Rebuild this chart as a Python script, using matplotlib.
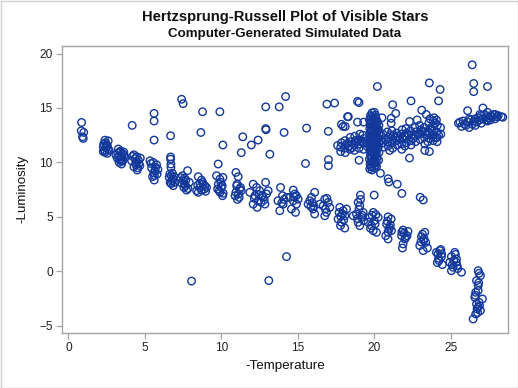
import matplotlib
matplotlib.use("Agg")
import matplotlib.pyplot as plt
from matplotlib.patches import Rectangle

# ---------------- data ----------------
# main sequence, upper-left part
ms_a_x = [0.86, 0.84, 1.00, 0.97, 0.92,
          2.39, 2.60, 2.49, 2.28, 2.60, 2.39, 2.54, 2.28, 2.45, 2.35, 2.55, 2.42, 2.66, 2.31,
          3.26, 3.37, 3.47, 3.19, 3.58, 3.32, 3.47, 3.69, 3.10, 3.40, 3.55, 3.28, 3.62, 3.35, 3.50, 3.22, 3.44, 3.65,
          4.28, 4.46, 4.13, 4.42, 4.57, 4.28, 4.50, 4.67, 4.35, 4.60, 4.20, 4.52, 4.40, 4.70,
          5.33, 5.55, 5.76, 5.44, 5.65, 5.80, 5.50, 5.61, 5.70, 5.40, 5.58, 5.85, 5.62,
          6.68, 6.68, 6.70, 6.70, 6.63, 6.74, 6.85, 6.96, 6.85, 6.59, 6.78, 6.90, 6.65, 6.80, 6.72,
          7.46, 7.79, 7.68, 7.61, 7.72, 7.55, 7.90, 7.50, 7.35, 7.65, 7.82, 7.58, 7.40,
          8.49, 8.70, 8.81, 8.59, 8.38, 8.92, 8.77, 9.03, 8.49, 8.70, 8.60, 8.88, 8.45, 8.97]
ms_a_y = [13.67, 12.90, 12.75, 12.20, 12.35,
          12.04, 11.98, 11.62, 11.44, 11.23, 10.92, 10.83, 11.00, 11.35, 11.15, 11.50, 11.80, 11.10, 11.70,
          11.23, 10.92, 10.61, 10.40, 10.21, 10.00, 9.85, 10.46, 10.70, 11.05, 10.80, 10.55, 10.95, 10.25, 10.10, 10.85, 10.35, 10.65,
          10.70, 10.52, 10.15, 10.00, 10.21, 9.60, 9.30, 9.70, 10.35, 9.90, 10.55, 9.50, 9.80, 10.40,
          10.15, 10.00, 9.79, 9.48, 9.24, 8.93, 8.69, 8.38, 9.55, 9.90, 9.05, 9.35, 8.80,
          10.50, 10.30, 9.85, 9.55, 8.93, 8.78, 8.47, 8.17, 7.86, 8.63, 8.30, 8.70, 8.15, 9.00, 8.05,
          8.78, 9.24, 8.38, 8.00, 7.46, 7.70, 8.17, 8.32, 8.60, 7.85, 7.60, 8.55, 8.10,
          8.69, 8.38, 8.00, 7.70, 7.40, 7.85, 8.17, 7.70, 7.25, 7.46, 8.05, 7.55, 7.90, 7.35]

# main sequence, middle part
ms_b_x = [9.79, 9.68, 9.90, 10.10, 9.80, 10.00, 9.86, 10.12, 9.97, 10.08, 9.75, 10.05, 9.92,
          10.95, 11.10, 11.00, 11.20, 10.95, 11.17, 10.90, 11.30, 11.03, 11.12, 11.05, 11.25,
          12.08, 12.30, 12.50, 12.20, 12.40, 12.08, 12.73, 12.95, 13.06, 12.89, 12.60, 12.34, 11.86, 12.85, 12.45, 12.65, 12.15, 12.80,
          13.87, 14.00, 13.70, 14.04, 13.82, 14.26, 14.70, 14.80, 14.70, 14.91, 14.58, 14.85, 14.48, 15.02, 13.95, 14.10, 14.75, 14.90,
          16.10, 15.89, 15.67, 16.00, 16.10, 15.78, 16.76, 16.98, 16.66, 16.87, 17.09, 16.76, 16.44, 15.95, 16.05, 16.90, 16.80, 15.85]
ms_b_y = [9.85, 8.78, 8.47, 8.62, 8.00, 7.70, 7.40, 7.16, 8.17, 6.94, 7.55, 7.85, 7.25,
          9.08, 8.69, 7.86, 7.55, 7.25, 6.79, 6.94, 7.40, 8.00, 7.10, 6.60, 7.70,
          8.00, 7.70, 7.40, 6.94, 6.48, 6.17, 6.79, 7.10, 7.40, 8.17, 6.33, 5.87, 7.25, 6.17, 7.05, 6.95, 6.70, 6.55,
          7.70, 6.94, 6.48, 6.17, 5.56, 6.79, 7.46, 7.10, 6.48, 6.17, 5.72, 5.41, 6.79, 6.63, 6.30, 6.60, 6.85, 6.95,
          7.25, 6.79, 6.17, 5.72, 5.26, 6.48, 6.63, 6.33, 6.02, 5.41, 5.87, 5.10, 6.17, 6.30, 6.00, 6.70, 5.70, 5.95]

# main sequence, lower-right part
ms_c_x = [17.74, 17.96, 18.07, 17.63, 17.85, 17.79, 18.07, 18.18, 17.92, 17.80, 18.00, 17.70,
          19.09, 18.94, 19.05, 18.62, 18.83, 19.16, 19.31, 18.94, 19.05, 19.27, 19.00, 18.90, 19.20, 19.10,
          19.93, 19.70, 20.00, 19.81, 19.93, 20.14, 19.60, 20.25, 19.99, 19.85, 20.05, 19.75, 20.10,
          20.90, 21.10, 20.80, 21.00, 20.90, 20.75, 21.12, 20.90, 20.85, 21.05, 20.95,
          21.88, 22.20, 21.78, 22.00, 21.88, 21.84, 22.14, 21.95, 22.05, 21.80,
          23.30, 23.08, 23.23, 22.97, 23.19, 23.47, 23.36, 23.15, 23.25, 23.05,
          24.28, 24.17, 24.39, 24.23, 24.45, 24.06, 24.35, 24.20, 24.40, 24.12,
          25.26, 25.04, 25.37, 24.93, 25.15, 25.41, 25.70, 25.04, 25.36, 25.30, 25.20, 25.10, 25.45,
          26.79, 26.85, 26.68, 26.79, 26.63, 26.57, 27.07, 26.68, 26.79, 26.94, 26.63, 26.46, 26.85, 26.94, 26.79, 26.72, 26.88, 26.60, 26.82, 26.75]
ms_c_y = [5.87, 5.56, 5.10, 4.80, 4.50, 4.19, 3.97, 5.72, 5.26, 5.05, 4.70, 5.40,
          7.00, 6.33, 6.02, 5.10, 5.26, 4.95, 4.65, 4.50, 4.19, 5.41, 5.70, 4.85, 5.15, 6.60,
          5.41, 4.95, 4.65, 4.19, 3.73, 3.58, 4.50, 4.95, 7.00, 5.15, 4.35, 3.95, 5.20,
          5.00, 4.80, 4.34, 4.03, 3.58, 3.27, 3.73, 2.97, 4.60, 4.25, 3.85,
          3.79, 3.67, 3.27, 2.97, 2.51, 2.14, 3.27, 3.50, 3.10, 3.60,
          3.58, 3.18, 2.82, 2.36, 1.90, 2.14, 2.66, 3.40, 3.00, 2.70,
          1.90, 1.59, 1.35, 0.98, 0.61, 1.74, 2.00, 1.20, 1.60, 0.80,
          1.74, 1.35, 1.13, 0.83, 0.37, 0.52, -0.09, 0.06, 0.83, 1.55, 1.00, 0.60, 0.25,
          0.06, -0.18, -0.86, -1.31, -1.93, -2.39, -2.54, -3.00, -3.30, -3.61, -3.92, -4.38, -2.85, -0.40, -1.77, -3.45, -3.15, -2.20, -1.05, -3.80]

# giant branch: horizontal band
band_x = [17.80, 17.80, 17.85, 17.60,
          18.10, 18.05, 18.12, 18.08,
          18.40, 18.35, 18.45, 18.42,
          18.70, 18.68, 18.75, 18.72,
          19.00, 19.02, 18.97, 19.05,
          19.30, 19.28, 19.33, 19.25, 19.50, 19.48,
          20.60, 20.58, 20.63, 20.55,
          20.90, 20.88, 20.93, 20.86,
          21.20, 21.18, 21.22, 21.25, 21.15,
          21.50, 21.48, 21.53, 21.46,
          21.80, 21.78, 21.83, 21.76, 21.82,
          22.10, 22.08, 22.12, 22.06,
          22.40, 22.38, 22.43, 22.36,
          22.70, 22.68, 22.72, 22.66,
          23.00, 22.98, 23.03, 22.96,
          23.30, 23.28, 23.32, 23.26,
          23.60, 23.58, 23.62, 23.56, 23.64,
          23.85, 23.83, 23.88, 23.82, 23.86, 23.90,
          24.10, 24.08, 24.12, 24.06,
          24.35, 24.33,
          18.25, 18.55, 18.85, 19.15, 19.45, 20.45, 20.75, 21.05, 21.35, 21.65, 21.95, 22.25,
          22.55, 22.85, 23.15, 23.45, 23.75, 24.00, 24.20, 22.00, 21.00, 23.50, 24.00]
band_y = [11.00, 11.40, 11.80, 11.55,
          10.90, 11.30, 11.60, 12.00,
          11.20, 11.50, 11.90, 12.30,
          11.10, 11.60, 12.00, 12.40,
          11.30, 11.70, 12.10, 12.60,
          11.20, 11.80, 12.20, 12.50, 11.50, 12.00,
          11.40, 11.80, 12.20, 12.60,
          11.50, 11.90, 12.30, 12.80,
          11.30, 11.80, 12.10, 12.50, 12.90,
          11.60, 12.00, 12.40, 12.70,
          11.20, 11.70, 12.20, 12.60, 13.00,
          11.80, 12.30, 12.70, 13.10,
          11.60, 12.00, 12.50, 12.90,
          11.90, 12.40, 12.80, 13.20,
          12.10, 12.60, 13.00, 13.40,
          11.70, 12.30, 12.80, 13.20,
          12.20, 12.70, 13.10, 13.60, 14.00,
          12.00, 12.50, 12.90, 13.30, 13.80, 14.10,
          12.30, 12.80, 13.40, 13.90,
          12.60, 13.20,
          11.75, 11.35, 11.85, 11.95, 11.75, 12.00, 12.10, 12.55, 12.25, 12.20, 12.45, 12.55,
          12.20, 12.60, 12.85, 12.55, 13.00, 13.60, 12.50, 11.50, 11.10, 11.90, 12.25]

# giant branch: vertical column near -Temperature = 20
col_x = [19.70, 19.72, 19.68, 19.75, 19.70, 19.73, 19.69, 19.74, 19.71, 19.70, 19.72, 19.68, 19.75,
         19.85, 19.83, 19.88, 19.86, 19.84, 19.87, 19.85, 19.83, 19.88, 19.86, 19.84, 19.87, 19.85,
         20.00, 20.02, 19.98, 20.01, 19.99, 20.03, 19.97, 20.00, 20.02, 19.98, 20.01, 19.99, 20.03, 20.00,
         20.15, 20.13, 20.17, 20.14, 20.16, 20.12, 20.15, 20.13, 20.17, 20.14, 20.16, 20.12,
         20.28, 20.30, 20.26, 20.29, 20.27, 20.31, 20.28, 20.30,
         19.78, 19.80, 19.77, 19.79, 19.81, 19.78, 19.80, 19.77, 19.79, 19.81, 19.78, 19.80,
         20.08, 20.07, 20.09, 20.06, 20.08, 20.10, 20.07, 20.09, 20.06, 20.08, 20.10, 20.07,
         19.92, 19.93, 19.91, 19.94, 19.92, 19.93, 20.22, 20.21, 20.23, 20.22]
col_y = [9.40, 9.85, 10.30, 10.70, 11.10, 11.50, 11.90, 12.30, 12.70, 13.10, 13.50, 13.90, 14.30,
         9.30, 9.70, 10.10, 10.50, 10.90, 11.30, 11.70, 12.10, 12.50, 12.90, 13.30, 13.70, 14.55,
         9.50, 9.90, 10.30, 10.70, 11.10, 11.50, 11.90, 12.30, 12.70, 13.10, 13.50, 13.90, 14.20, 14.60,
         9.60, 10.00, 10.40, 10.80, 11.20, 11.60, 12.00, 12.40, 12.80, 13.20, 13.60, 14.00,
         10.20, 10.90, 11.40, 11.80, 12.20, 12.60, 13.00, 13.40,
         9.60, 10.05, 10.50, 10.95, 11.35, 11.75, 12.15, 12.55, 12.95, 13.35, 13.75, 14.15,
         9.75, 10.15, 10.60, 11.00, 11.40, 11.80, 12.20, 12.60, 13.00, 13.40, 13.80, 14.35,
         10.85, 11.65, 12.45, 13.25, 14.05, 9.95, 11.30, 12.10, 12.90, 13.70]

# supergiant-like group at the right
right_x = [25.50, 25.70, 25.90, 25.80, 26.00, 26.10, 26.20, 26.30, 26.40, 26.50, 26.60, 26.60,
           26.70, 26.80, 26.90, 27.00, 27.00, 27.10, 27.20, 27.30, 27.30, 27.40, 27.50, 27.60,
           27.60, 27.70, 27.80, 27.90, 28.00, 28.10, 28.30, 28.40, 26.20, 25.60, 26.90, 27.40, 27.90]
right_y = [13.60, 13.30, 13.50, 13.80, 13.40, 13.70, 13.20, 13.90, 13.50, 13.80, 14.00, 13.40,
           13.70, 14.10, 13.90, 14.30, 13.60, 14.00, 14.40, 13.90, 14.20, 14.60, 14.10, 14.30,
           13.90, 14.20, 14.40, 14.00, 14.20, 14.30, 14.20, 14.15, 14.00, 13.70, 14.40, 13.80, 14.40]

# scattered stars
scat_x = [4.17, 5.60, 5.60, 5.60, 6.68, 7.40, 7.50, 8.77, 8.66, 9.90, 10.10, 11.40, 11.30,
          11.96, 12.40, 12.90, 12.90, 12.92, 13.17, 13.78, 14.20, 14.10, 15.57, 15.50, 16.90,
          17.40, 16.99, 17.00, 17.00, 18.25, 17.85, 18.10,
          20.20, 18.90, 19.00, 21.20, 22.40, 23.60, 24.30, 24.20, 23.10, 23.40, 21.40, 21.10,
          21.10, 22.30, 22.80, 20.50, 18.30, 18.90, 19.30, 17.96, 26.40, 26.50, 26.50, 27.40,
          26.10, 27.10,
          19.00, 22.30, 23.30, 23.60, 24.10, 20.40, 20.90, 20.95, 21.50, 21.80, 23.00, 23.20,
          8.05, 13.10, 14.26]
scat_y = [13.40, 14.50, 13.80, 12.05, 12.45, 15.80, 15.40, 14.65, 12.75, 14.65, 11.60, 12.35, 10.90,
          11.60, 12.05, 15.10, 13.10, 13.00, 10.75, 15.10, 16.05, 12.75, 13.15, 9.90, 15.35,
          15.45, 12.85, 10.25, 9.70, 14.20, 13.50, 13.30,
          16.97, 15.60, 15.50, 15.30, 15.65, 17.30, 16.70, 15.65, 14.80, 14.40, 14.50, 14.05,
          13.60, 13.75, 13.90, 14.10, 14.20, 13.70, 13.70, 13.30, 18.96, 17.25, 16.50, 16.97,
          14.75, 15.00,
          10.20, 10.40, 11.10, 11.00, 11.90, 9.00, 8.50, 8.20, 8.00, 7.15, 6.80, 6.55,
          -0.90, -0.85, 1.35]

x_ticks = [0, 5, 10, 15, 20, 25]
y_ticks = [-5, 0, 5, 10, 15, 20]

title = "Hertzsprung-Russell Plot of Visible Stars"
subtitle = "Computer-Generated Simulated Data"
x_label = "-Temperature"
y_label = "-Luminosity"

# ---------------- drawing ----------------
plt.rcParams['font.family'] = ['Liberation Sans', 'DejaVu Sans']

W, H = 518, 388
fig = plt.figure(figsize=(W / 100, H / 100), dpi=100)
fig.patch.set_facecolor('white')

left, right, top, bottom = 61.7, 508.3, 46.0, 332.5
ax = fig.add_axes([left / W, 1 - bottom / H, (right - left) / W, (bottom - top) / H])

marker_color = '#12389c'
all_x = ms_a_x + ms_b_x + ms_c_x + band_x + col_x + right_x + scat_x
all_y = ms_a_y + ms_b_y + ms_c_y + band_y + col_y + right_y + scat_y
ax.scatter(all_x, all_y, s=29, facecolors='none', edgecolors=marker_color, linewidths=1.0)

ax.set_xlim(-0.44, 28.76)
ax.set_ylim(-5.62, 20.69)
ax.set_xticks(x_ticks)
ax.set_yticks(y_ticks)

frame_color = '#a5a5a5'
for sp in ax.spines.values():
    sp.set_color(frame_color)
    sp.set_linewidth(1.0)
ax.tick_params(axis='both', which='major', direction='out', length=4.5, width=0.9,
               color=frame_color, labelcolor='#222222', labelsize=8.6, pad=2)

ax.set_xlabel(x_label, fontsize=9.6, color='#111111', labelpad=5)
ax.set_ylabel(y_label, fontsize=9.6, color='#111111', labelpad=8)

cx = (left + right) / 2 / W
fig.text(cx, 1 - 17.5 / H, title, ha='center', va='center', fontsize=10.6,
         fontweight='bold', color='#111111')
fig.text(cx, 1 - 34 / H, subtitle, ha='center', va='center', fontsize=9.6,
         fontweight='bold', color='#111111')

fig.patches.append(Rectangle((0.5 / W, 0.5 / H), 1 - 1.0 / W, 1 - 1.0 / H,
                             transform=fig.transFigure, fill=False,
                             edgecolor='#cfcfcf', linewidth=1.0))

fig.savefig('out.png', dpi=100, facecolor='white')
